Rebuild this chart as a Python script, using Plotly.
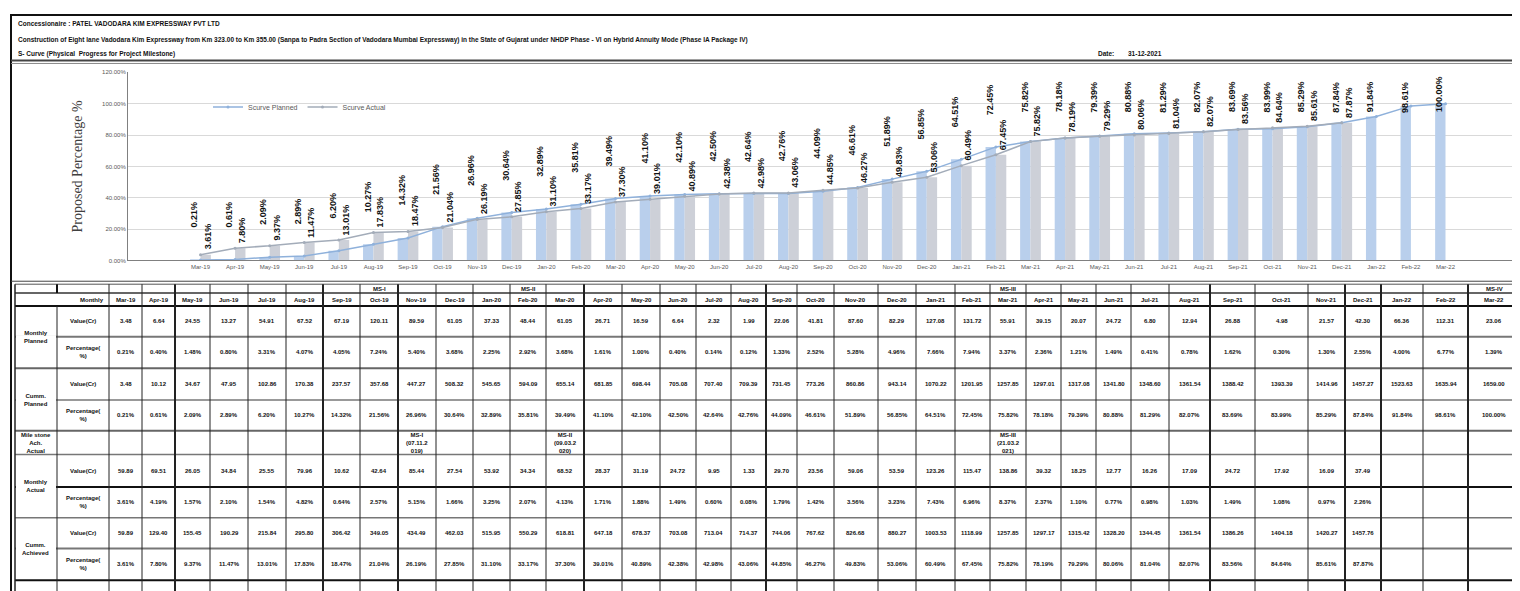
import plotly.graph_objects as go

# ---------------- DATA ----------------
months = ["Mar-19", "Apr-19", "May-19", "Jun-19", "Jul-19", "Aug-19", "Sep-19", "Oct-19", "Nov-19", "Dec-19",
          "Jan-20", "Feb-20", "Mar-20", "Apr-20", "May-20", "Jun-20", "Jul-20", "Aug-20", "Sep-20", "Oct-20",
          "Nov-20", "Dec-20", "Jan-21", "Feb-21", "Mar-21", "Apr-21", "May-21", "Jun-21", "Jul-21", "Aug-21",
          "Sep-21", "Oct-21", "Nov-21", "Dec-21", "Jan-22", "Feb-22", "Mar-22"]

monthly_planned_val = [3.48, 6.64, 24.55, 13.27, 54.91, 67.52, 67.19, 120.11, 89.59, 61.05,
                       37.33, 48.44, 61.05, 26.71, 16.59, 6.64, 2.32, 1.99, 22.06, 41.81,
                       87.60, 82.29, 127.08, 131.72, 55.91, 39.15, 20.07, 24.72, 6.80, 12.94,
                       26.88, 4.98, 21.57, 42.30, 66.36, 112.31, 23.06]
monthly_planned_pct = [0.21, 0.40, 1.48, 0.80, 3.31, 4.07, 4.05, 7.24, 5.40, 3.68,
                       2.25, 2.92, 3.68, 1.61, 1.00, 0.40, 0.14, 0.12, 1.33, 2.52,
                       5.28, 4.96, 7.66, 7.94, 3.37, 2.36, 1.21, 1.49, 0.41, 0.78,
                       1.62, 0.30, 1.30, 2.55, 4.00, 6.77, 1.39]
cum_planned_val = [3.48, 10.12, 34.67, 47.95, 102.86, 170.38, 237.57, 357.68, 447.27, 508.32,
                   545.65, 594.09, 655.14, 681.85, 698.44, 705.08, 707.40, 709.39, 731.45, 773.26,
                   860.86, 943.14, 1070.22, 1201.95, 1257.85, 1297.01, 1317.08, 1341.80, 1348.60, 1361.54,
                   1388.42, 1393.39, 1414.96, 1457.27, 1523.63, 1635.94, 1659.00]
cum_planned_pct = [0.21, 0.61, 2.09, 2.89, 6.20, 10.27, 14.32, 21.56, 26.96, 30.64,
                   32.89, 35.81, 39.49, 41.10, 42.10, 42.50, 42.64, 42.76, 44.09, 46.61,
                   51.89, 56.85, 64.51, 72.45, 75.82, 78.18, 79.39, 80.88, 81.29, 82.07,
                   83.69, 83.99, 85.29, 87.84, 91.84, 98.61, 100.00]

monthly_actual_val = [59.89, 69.51, 26.05, 34.84, 25.55, 79.96, 10.62, 42.64, 85.44, 27.54,
                      53.92, 34.34, 68.52, 28.37, 31.19, 24.72, 9.95, 1.33, 29.70, 23.56,
                      59.06, 53.59, 123.26, 115.47, 138.86, 39.32, 18.25, 12.77, 16.26, 17.09,
                      24.72, 17.92, 16.09, 37.49]
monthly_actual_pct = [3.61, 4.19, 1.57, 2.10, 1.54, 4.82, 0.64, 2.57, 5.15, 1.66,
                      3.25, 2.07, 4.13, 1.71, 1.88, 1.49, 0.60, 0.08, 1.79, 1.42,
                      3.56, 3.23, 7.43, 6.96, 8.37, 2.37, 1.10, 0.77, 0.98, 1.03,
                      1.49, 1.08, 0.97, 2.26]
cum_actual_val = [59.89, 129.40, 155.45, 190.29, 215.84, 295.80, 306.42, 349.05, 434.49, 462.03,
                  515.95, 550.29, 618.81, 647.18, 678.37, 703.08, 713.04, 714.37, 744.06, 767.62,
                  826.68, 880.27, 1003.53, 1118.99, 1257.85, 1297.17, 1315.42, 1328.20, 1344.45, 1361.54,
                  1386.26, 1404.18, 1420.27, 1457.76]
cum_actual_pct = [3.61, 7.80, 9.37, 11.47, 13.01, 17.83, 18.47, 21.04, 26.19, 27.85,
                  31.10, 33.17, 37.30, 39.01, 40.89, 42.38, 42.98, 43.06, 44.85, 46.27,
                  49.83, 53.06, 60.49, 67.45, 75.82, 78.19, 79.29, 80.06, 81.04, 82.07,
                  83.56, 84.64, 85.61, 87.87]

ms_header = {"Oct-19": "MS-I", "Feb-20": "MS-II", "Mar-21": "MS-III", "Mar-22": "MS-IV"}
ms_achieved = {"Nov-19": "MS-I<br>(07.11.2<br>019)", "Mar-20": "MS-II<br>(09.03.2<br>020)",
               "Mar-21": "MS-III<br>(21.03.2<br>021)"}

title1 = "Concessionaire : PATEL VADODARA KIM EXPRESSWAY PVT LTD"
title2 = ("Construction of Eight lane Vadodara Kim Expressway from Km 323.00 to Km 355.00 (Sanpa to Padra Section "
          "of Vadodara Mumbai Expressway) in the State of Gujarat under NHDP Phase - VI on Hybrid Annuity Mode "
          "(Phase IA Package IV)")
title3 = "S- Curve (Physical  Progress for Project Milestone)"
date_label = "Date:"
date_value = "31-12-2021"

# ---------------- LAYOUT HELPERS ----------------
W, H = 1520, 591
def px(x): return x / W
def py(y): return 1 - y / H

FONT = "Liberation Sans"

fig = go.Figure()

fig.add_bar(x=months, y=cum_planned_pct, marker_color="#b9cfec", marker_line_width=0,
            name="Cumm. Planned (bar)", showlegend=False, hoverinfo="skip")
fig.add_bar(x=months[:len(cum_actual_pct)], y=cum_actual_pct, marker_color="#cdd0d8", marker_line_width=0,
            name="Cumm. Actual (bar)", showlegend=False, hoverinfo="skip")
fig.add_scatter(x=months, y=cum_planned_pct, mode="lines+markers", name="Scurve Planned",
                line=dict(color="#8fb1db", width=1.5), marker=dict(size=3, color="#8fb1db"))
fig.add_scatter(x=months[:len(cum_actual_pct)], y=cum_actual_pct, mode="lines+markers", name="Scurve Actual",
                line=dict(color="#a3acb9", width=1.5), marker=dict(size=3, color="#a3acb9"))

annotations = []
CAP = 74  # labels are kept inside the plot area, as in the source chart
for m, v in zip(months, cum_planned_pct):
    annotations.append(dict(xref="x", yref="y", x=m, y=min(v, CAP), text=f"<b>{v:.2f}%</b>", textangle=-90,
                            showarrow=False, yanchor="bottom", yshift=30, xshift=-6,
                            font=dict(family=FONT, size=9, color="#111")))
for m, v in zip(months, cum_actual_pct):
    annotations.append(dict(xref="x", yref="y", x=m, y=v, text=f"<b>{v:.2f}%</b>", textangle=-90,
                            showarrow=False, yanchor="bottom", yshift=3, xshift=7,
                            font=dict(family=FONT, size=9, color="#111")))

# header texts
hdr_font = dict(family=FONT, size=6.5, color="#111")
for y, t in [(13, title1), (29, title2), (43, title3)]:
    annotations.append(dict(xref="paper", yref="paper", x=px(8), y=py(y), text=f"<b>{t}</b>",
                            showarrow=False, xanchor="left", yanchor="middle", font=hdr_font))
annotations.append(dict(xref="paper", yref="paper", x=px(1088), y=py(43), text=f"<b>{date_label}</b>",
                        showarrow=False, xanchor="left", yanchor="middle", font=hdr_font))
annotations.append(dict(xref="paper", yref="paper", x=px(1118), y=py(43), text=f"<b>{date_value}</b>",
                        showarrow=False, xanchor="left", yanchor="middle", font=hdr_font))

shapes = []
def hline(y, x0, x1, w=1, c="#222"):
    shapes.append(dict(type="line", xref="paper", yref="paper", x0=px(x0), x1=px(x1), y0=py(y), y1=py(y),
                       line=dict(color=c, width=w)))
def vline(x, y0, y1, w=1, c="#222"):
    shapes.append(dict(type="line", xref="paper", yref="paper", x0=px(x), x1=px(x), y0=py(y0), y1=py(y1),
                       line=dict(color=c, width=w)))

# outer frame and header separators
shapes.append(dict(type="rect", xref="paper", yref="paper", x0=px(3), x1=px(1516), y0=py(589), y1=py(4),
                   line=dict(color="#111", width=2)))
hline(50, 3, 1516, 2, "#444")
hline(53, 3, 1516, 1, "#888")
hline(273, 3, 1516, 1, "#444")

# ---------------- TABLE ----------------
col_edges = [101, 134, 167, 202, 240, 278, 315, 352, 390, 428, 465, 502, 538, 576, 614, 652, 688, 723, 758, 789,
             826, 870, 908, 947, 982, 1018, 1053, 1088, 1123, 1161, 1202, 1247, 1300, 1337, 1373, 1415, 1460, 1512]
thick_cols = {167, 315, 390, 576, 758, 1202, 1337, 1373, 1460}
row_edges = [276, 285, 298, 329, 361, 393, 424, 448, 481, 512, 543, 575, 591]
left0, left1 = 7, 49

hstyle = {276: (1, "#555"), 285: (1.5, "#333"), 298: (2, "#111"), 329: (2, "#777"), 361: (2, "#666"),
          393: (1.5, "#777"), 424: (2, "#666"), 448: (1.5, "#777"), 481: (2, "#111"), 512: (1.5, "#777"),
          543: (2, "#777"), 575: (2, "#111")}
for y, (w, c) in hstyle.items():
    hline(y, left0, col_edges[-1], w, c)
for x in col_edges:
    w = 2 if x in thick_cols else 1
    vline(x, row_edges[0], row_edges[-1], w, "#222")
vline(left0, row_edges[0], row_edges[-1], 1.5, "#222")
vline(left1, row_edges[0], row_edges[1], 2, "#111")
vline(left1, row_edges[2], row_edges[-1], 1, "#222")
for y in [329, 393, 481, 543]:
    shapes.append(dict(type="line", xref="paper", yref="paper", x0=px(left0 + 1), x1=px(left1 - 1),
                       y0=py(y), y1=py(y), line=dict(color="white", width=3)))

tfont = dict(family=FONT, size=6, color="#111")
def cell(x0, x1, y0, y1, text, xanchor="center"):
    if xanchor == "center":
        xx = px((x0 + x1) / 2)
    elif xanchor == "right":
        xx = px(x1 - 3)
    else:
        xx = px(x0 + 3)
    annotations.append(dict(xref="paper", yref="paper", x=xx, y=py((y0 + y1) / 2), text=f"<b>{text}</b>",
                            showarrow=False, xanchor=xanchor, yanchor="middle", font=tfont))

cell(left1, col_edges[0], 285, 298, "Monthly", "right")
group_labels = [(298, 361, "Monthly<br>Planned"), (361, 424, "Cumm.<br>Planned"),
                (424, 448, "Mile stone<br>Ach.<br>Actual"), (448, 512, "Monthly<br>Actual"),
                (512, 575, "Cumm.<br>Achieved")]
for y0, y1, t in group_labels:
    cell(left0, left1, y0, y1, t)
for (y0, y1) in [(298, 329), (361, 393), (448, 481), (512, 543)]:
    cell(left1, col_edges[0], y0, y1, "Value(Cr)")
for (y0, y1) in [(329, 361), (393, 424), (481, 512), (543, 575)]:
    cell(left1, col_edges[0], y0, y1, "Percentage(<br>%)")

rows_data = [
    (298, 329, monthly_planned_val, "{:.2f}"),
    (329, 361, monthly_planned_pct, "{:.2f}%"),
    (361, 393, cum_planned_val, "{:.2f}"),
    (393, 424, cum_planned_pct, "{:.2f}%"),
    (448, 481, monthly_actual_val, "{:.2f}"),
    (481, 512, monthly_actual_pct, "{:.2f}%"),
    (512, 543, cum_actual_val, "{:.2f}"),
    (543, 575, cum_actual_pct, "{:.2f}%"),
]
for i, m in enumerate(months):
    x0, x1 = col_edges[i], col_edges[i + 1]
    cell(x0, x1, 285, 298, m)
    if m in ms_header:
        cell(x0, x1, 276, 285, ms_header[m])
    if m in ms_achieved:
        cell(x0, x1, 424, 448, ms_achieved[m])
    for y0, y1, arr, fmt in rows_data:
        if i < len(arr):
            cell(x0, x1, y0, y1, fmt.format(arr[i]))

fig.update_layout(
    width=W, height=H, margin=dict(l=0, r=0, t=0, b=0),
    paper_bgcolor="white", plot_bgcolor="white",
    barmode="group", bargap=0.4, bargroupgap=0,
    font=dict(family=FONT, size=7, color="#404040"),
    xaxis=dict(domain=[px(120), px(1510)], showline=True, linecolor="#808080", linewidth=1,
               tickfont=dict(size=6, color="#595959"), tickangle=0, ticks="", showgrid=False,
               anchor="y"),
    yaxis=dict(domain=[py(252), py(62)], range=[0, 120], dtick=20, tickformat=".2f", ticksuffix="%",
               showline=True, linecolor="#808080", linewidth=1, gridcolor="#d9d9d9", gridwidth=1,
               tickfont=dict(size=6, color="#595959"), zeroline=False,
               title=dict(text="Proposed Percentage %", font=dict(family="Liberation Serif", size=14,
                                                                  color="#404040"), standoff=16)),
    legend=dict(orientation="h", x=px(200), y=py(97), xanchor="left", yanchor="middle",
                font=dict(size=7, color="#595959"), bgcolor="rgba(0,0,0,0)"),
    annotations=annotations, shapes=shapes,
)

fig.write_html("out.html")
